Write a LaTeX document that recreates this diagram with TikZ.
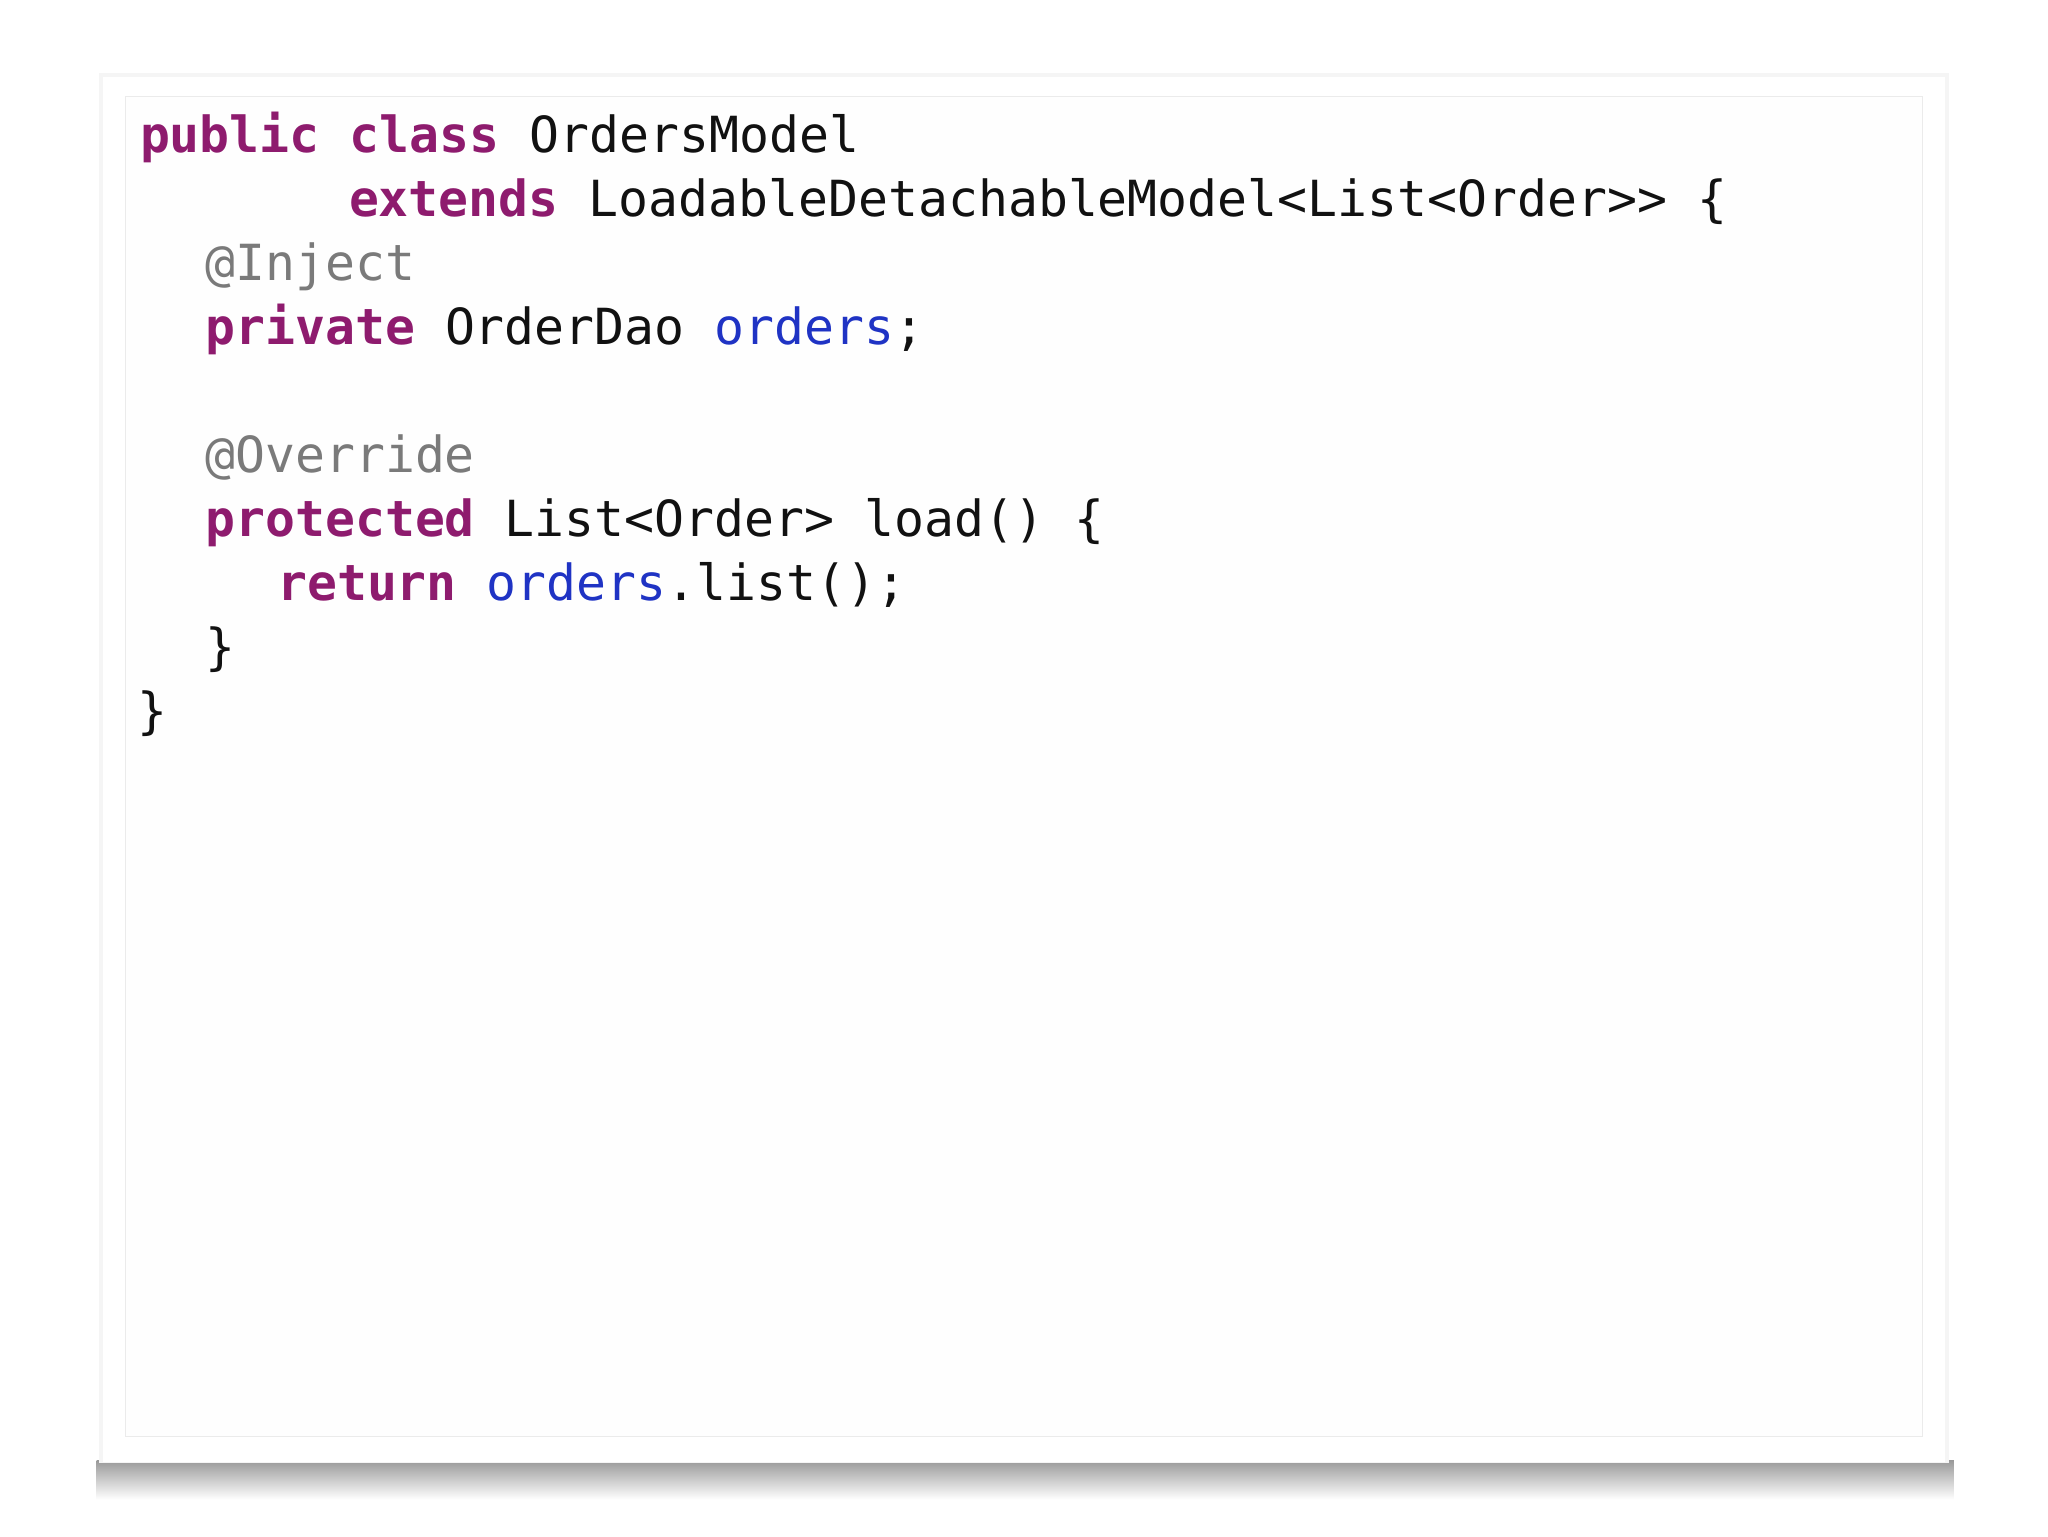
\documentclass[tikz,border=0pt]{standalone}
\usepackage{fontspec}
\setmonofont{DejaVu Sans Mono}
\definecolor{kw}{HTML}{8E1B6E}
\definecolor{fld}{HTML}{1F33C4}
\definecolor{ann}{HTML}{7A7A7A}
\definecolor{txt}{HTML}{111111}
\tikzset{code/.style={anchor=base west,inner sep=0pt,font=\fontsize{38.1}{44}\selectfont\ttfamily,text=txt}}
\begin{document}
\begin{tikzpicture}[x=1pt,y=-1pt]
\useasboundingbox (0,0) rectangle (1568,1176);
\fill[white] (0,0) rectangle (1568,1176);
% shadow
\shade[top color=black!40,bottom color=white] (74,1118) rectangle (1496,1148);
\fill[black!4] (76,56) rectangle (1492,1120);
\fill[white] (79,59) rectangle (1489,1119);
\draw[black!8,line width=1pt,fill=white!99!gray] (96,74) rectangle (1472,1100);
\node[code] (l1) at (107,117) {\textcolor{kw}{\bfseries public class} OrdersModel};
\node[code] (l2) at (267,166) {\textcolor{kw}{\bfseries extends} LoadableDetachableModel<List<Order>{}> \{};
\node[code] (l3) at (157,215) {\textcolor{ann}{@Inject}};
\node[code] (l4) at (157,264) {\textcolor{kw}{\bfseries private} OrderDao \textcolor{fld}{orders};};
\node[code] (l5) at (157,362) {\textcolor{ann}{@Override}};
\node[code] (l6) at (157,411) {\textcolor{kw}{\bfseries protected} List<Order> load() \{};
\node[code] (l7) at (212,460) {\textcolor{kw}{\bfseries return} \textcolor{fld}{orders}.list();};
\node[code] (l8) at (157,509) {\}};
\node[code] (l9) at (105,558) {\}};
\end{tikzpicture}
\end{document}
